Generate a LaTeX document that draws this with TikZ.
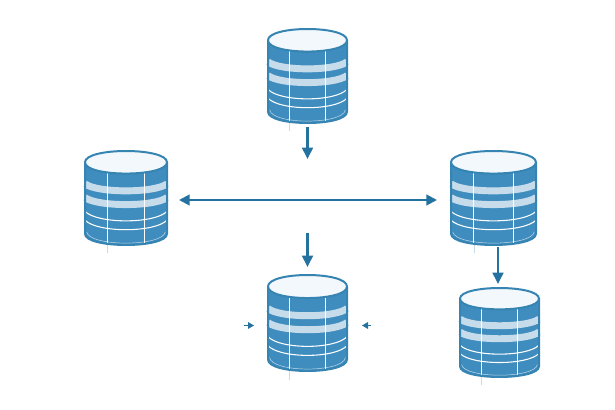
\documentclass[tikz,border=0pt]{standalone}
\usetikzlibrary{arrows.meta}
\definecolor{dbblue}{HTML}{3F8CBE}
\definecolor{dbrim}{HTML}{3584B2}
\definecolor{dbband}{HTML}{C6DCEB}
\definecolor{dbcap}{HTML}{F3F8FC}
\definecolor{flowblue}{HTML}{23729F}

\begin{document}
\begin{tikzpicture}[x=0.75pt,y=-0.75pt]
        % Styles
        \tikzset{
          rim/.style={draw=dbrim, line width=1.5pt},
          band/.style={draw=dbband, line width=5.2pt},
          rule/.style={draw=white, line width=0.8pt},
          edge/.style={draw=dbband, line width=0.35pt},
          flow/.style={
            draw=flowblue,
            line width=1.9pt,
            -{Triangle[length=8.5pt,width=8pt]}
          },
          flowtwo/.style={
            flow,
            line width=1.6pt,
            {Triangle[length=8pt,width=8pt]}-{Triangle[length=8pt,width=8pt]}
          },
          nudge/.style={
            draw=flowblue,
            line width=1pt,
            -{Triangle[length=4.5pt,width=5pt]}
          },
          dbstack/.pic={
            % body
            \path[fill=dbblue]
              (-1,0.12) -- (-1,0.88) .. controls (-1,1.04) and (1,1.04) .. (1,0.88)
              -- (1,0.12) -- cycle;
            % light bands
            \foreach \yb in {0.349,0.495}
              \path[band] (-1,\yb) .. controls (-0.7,\yb+0.1) and (0.7,\yb+0.1) .. (1,\yb);
            % thin rings
            \foreach \yb in {0.642,0.736}
              \path[rule] (-1,\yb) .. controls (-0.7,\yb+0.135) and (0.7,\yb+0.135) .. (1,\yb);
            \path[edge] (-0.96,0.86) .. controls (-0.9,1.02) and (0.9,1.02) .. (0.96,0.86);
            % uprights
            \path[rule] (-0.46,0.23) -- (-0.46,0.98);
            \path[rule] (0.46,0.23) -- (0.46,0.98);
            \path[draw=dbband, line width=0.5pt] (-0.46,0.99) -- (-0.46,1.09);
            % outline
            \path[rim]
              (-1,0.12) -- (-1,0.88) .. controls (-1,1.04) and (1,1.04) .. (1,0.88)
              -- (1,0.12);
            % lid
            \path[rim, fill=dbcap]
              (-1,0.12) .. controls (-1,-0.04) and (1,-0.04) .. (1,0.12)
              .. controls (1,0.28) and (-1,0.28) .. (-1,0.12) -- cycle;
          }
        }

        \useasboundingbox (0,0) rectangle (615,410);

        % the five stores
        \pic[xscale=39.5,yscale=94] at (307.5,29) {dbstack};
        \pic[xscale=41,yscale=94] at (126,151) {dbstack};
        \pic[xscale=42.5,yscale=94] at (493.5,151) {dbstack};
        \pic[xscale=39.5,yscale=96] at (307.5,275) {dbstack};
        \pic[xscale=39.5,yscale=89] at (499.5,288) {dbstack};

        % arrow ends
        \coordinate (topout) at (307.5,127);
        \coordinate (topend) at (307.5,159);
        \coordinate (leftend) at (179,200);
        \coordinate (rightend) at (437,200);
        \coordinate (midout) at (307.5,233);
        \coordinate (midend) at (307.5,267);
        \coordinate (rightout) at (498,247);
        \coordinate (lowend) at (498,284);
        \coordinate (nudgeLa) at (244,325.5);
        \coordinate (nudgeLb) at (254,325.5);
        \coordinate (nudgeRa) at (371,325.5);
        \coordinate (nudgeRb) at (362,325.5);

        \draw[flow] (topout) -- (topend);
        \draw[flowtwo] (leftend) -- (rightend);
        \draw[flow] (midout) -- (midend);
        \draw[flow] (rightout) -- (lowend);
        \draw[nudge] (nudgeLa) -- (nudgeLb);
        \draw[nudge] (nudgeRa) -- (nudgeRb);
    \end{tikzpicture}
\end{document}
